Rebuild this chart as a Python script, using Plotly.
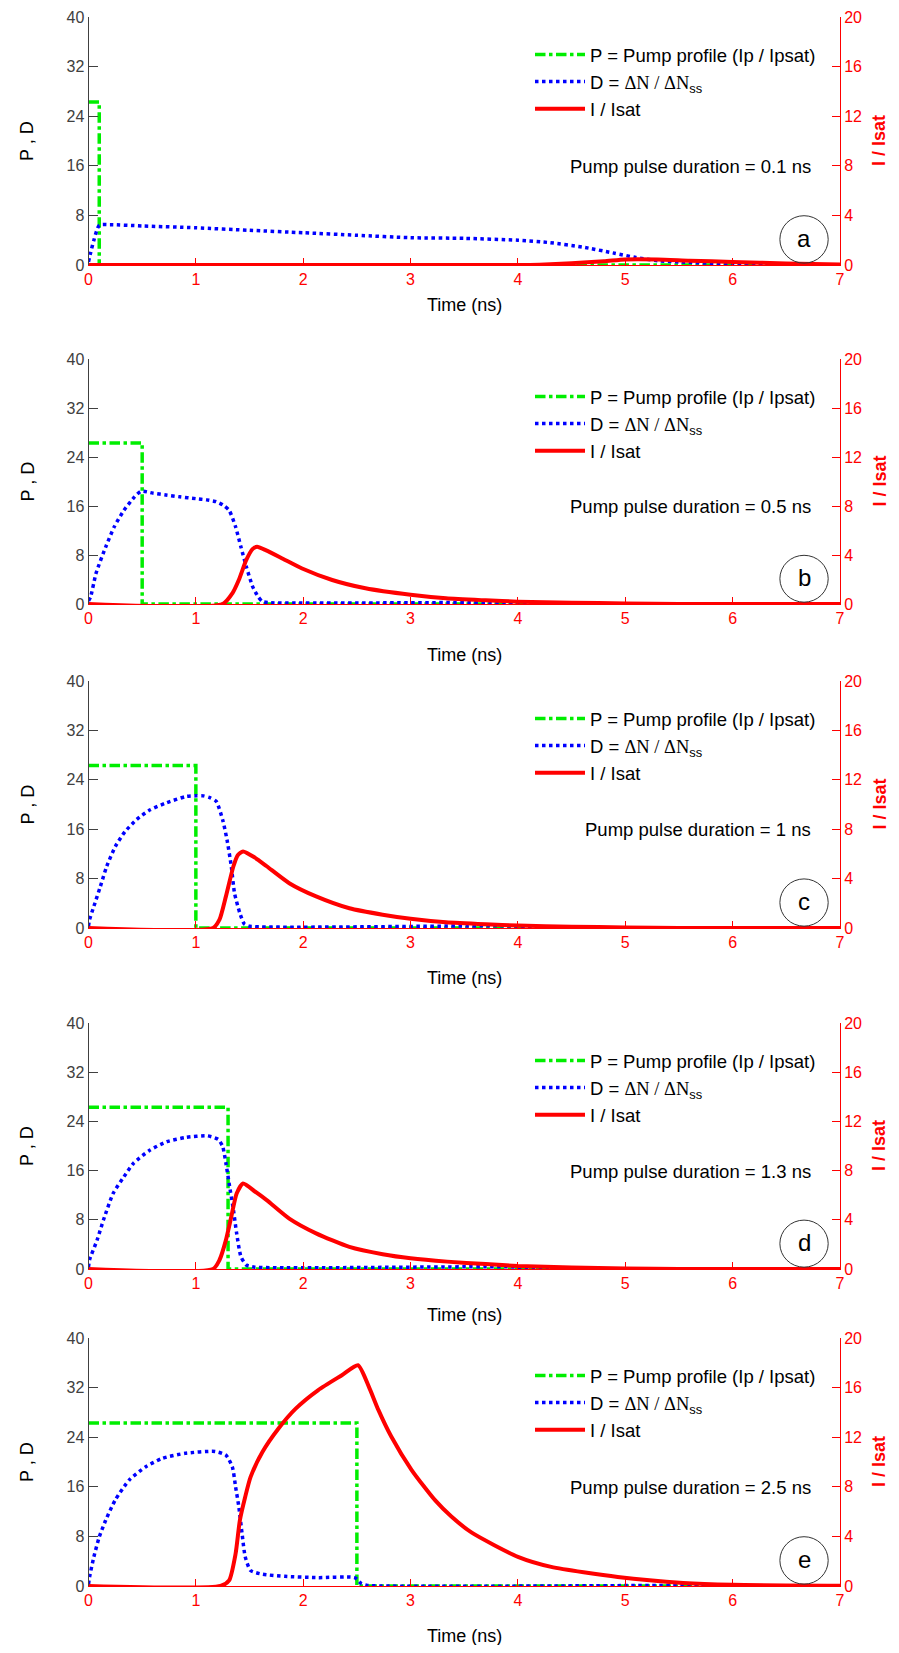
import plotly.graph_objects as go

# ---------------- data ----------------
durations = [0.1, 0.5, 1.0, 1.3, 2.5]           # pump pulse duration (ns)
pump_level = 26.3                                 # P = Ip / Ipsat
panel_letters = ["a", "b", "c", "d", "e"]
duration_labels = ["0.1", "0.5", "1", "1.3", "2.5"]

tD_a = [0, 0.02, 0.05, 0.1, 0.2, 0.5, 1.0, 1.5, 2.0, 2.5, 3.0, 3.5, 4.0, 4.3, 4.6, 4.9, 5.1, 5.3, 5.5, 6.0, 6.3, 7.0]
D_a = [0.5, 2.0, 4.0, 6.4, 6.5, 6.3, 6.0, 5.6, 5.2, 4.8, 4.4, 4.3, 4.0, 3.6, 2.9, 1.9, 1.2, 0.7, 0.5, 0.15, 0.0, 0.0]
tI_a = [0, 4.0, 4.2, 4.5, 4.8, 5.0, 5.3, 5.6, 6.0, 6.5, 7.0]
I_a = [0, 0, 0.03, 0.15, 0.3, 0.45, 0.45, 0.35, 0.25, 0.12, 0.05]

tD_b = [0, 0.02, 0.07, 0.16, 0.24, 0.33, 0.43, 0.49, 0.6, 0.72, 0.85, 1.0, 1.1, 1.19, 1.25, 1.31, 1.37, 1.42, 1.47, 1.53, 1.58, 1.62, 1.7, 4.0, 4.1, 7.0]
D_b = [0.5, 1.2, 5.0, 9.3, 12.6, 15.3, 17.5, 18.4, 18.1, 17.8, 17.5, 17.2, 17.0, 16.7, 16.2, 15.3, 12.6, 9.3, 6.1, 2.8, 1.2, 0.4, 0.2, 0.2, 0, 0]
tI_b = [0, 1.25, 1.34, 1.40, 1.47, 1.53, 1.57, 1.65, 1.81, 1.99, 2.27, 2.58, 3.0, 3.33, 3.7, 4.0, 4.5, 5.0, 5.5, 7.0]
I_b = [0, 0, 0.87, 1.96, 3.6, 4.5, 4.67, 4.4, 3.7, 2.9, 1.96, 1.28, 0.75, 0.46, 0.3, 0.19, 0.1, 0.05, 0, 0]

tD_c = [0, 0.01, 0.05, 0.11, 0.17, 0.25, 0.34, 0.45, 0.57, 0.73, 0.91, 1.0, 1.07, 1.13, 1.19, 1.25, 1.29, 1.33, 1.36, 1.41, 1.45, 1.5, 4.0, 4.1, 7.0]
D_c = [0.3, 1.35, 3.5, 6.7, 10.0, 13.2, 15.6, 17.6, 19.1, 20.3, 21.3, 21.4, 21.4, 21.1, 20.5, 17.5, 14.3, 10.0, 5.65, 2.4, 0.7, 0.3, 0.3, 0, 0]
tI_c = [0, 1.16, 1.22, 1.28, 1.35, 1.39, 1.44, 1.55, 1.66, 1.87, 2.12, 2.43, 2.74, 3.0, 3.33, 3.7, 4.0, 4.5, 5.0, 5.5, 7.0]
I_c = [0, 0, 0.67, 2.56, 5.0, 5.9, 6.2, 5.7, 5.0, 3.63, 2.56, 1.6, 1.08, 0.75, 0.46, 0.3, 0.2, 0.1, 0.05, 0, 0]

tD_d = [0, 0.01, 0.08, 0.14, 0.23, 0.33, 0.42, 0.57, 0.73, 0.91, 1.11, 1.21, 1.25, 1.28, 1.31, 1.35, 1.38, 1.42, 1.47, 1.55, 4.0, 4.1, 7.0]
D_d = [0.3, 1.5, 4.7, 8.0, 12.3, 15.0, 17.2, 19.3, 20.7, 21.4, 21.65, 21.05, 19.9, 17.2, 13.9, 9.6, 5.8, 2.0, 0.65, 0.3, 0.3, 0, 0]
tI_d = [0, 1.16, 1.22, 1.28, 1.33, 1.38, 1.44, 1.55, 1.66, 1.87, 2.12, 2.43, 2.74, 3.0, 3.34, 3.7, 4.0, 4.5, 5.0, 5.5, 7.0]
I_d = [0, 0, 0.73, 2.35, 4.25, 6.14, 6.95, 6.3, 5.6, 4.1, 2.9, 1.8, 1.2, 0.87, 0.6, 0.4, 0.25, 0.12, 0.05, 0, 0]

tD_e = [0, 0.01, 0.05, 0.1, 0.16, 0.25, 0.38, 0.53, 0.69, 0.9, 1.18, 1.28, 1.34, 1.37, 1.4, 1.43, 1.46, 1.51, 1.62, 1.83, 2.14, 2.48, 2.54, 2.6, 5.8, 5.9, 7.0]
D_e = [0.3, 1.46, 4.7, 7.9, 10.6, 13.9, 17.1, 19.2, 20.6, 21.4, 21.7, 21.1, 19.2, 16.0, 12.8, 8.5, 4.7, 2.5, 1.9, 1.56, 1.35, 1.35, 0.4, 0.1, 0.1, 0, 0]
tI_e = [0, 1.23, 1.31, 1.37, 1.41, 1.46, 1.51, 1.62, 1.77, 1.93, 2.14, 2.36, 2.51, 2.61, 2.70, 2.82, 3.01, 3.23, 3.38, 3.57, 4.0, 4.31, 4.93, 5.54, 6.0, 7.0]
I_e = [0, 0, 0.46, 2.6, 5.3, 7.2, 8.8, 10.8, 12.7, 14.3, 15.8, 17.0, 17.8, 16.1, 14.2, 12.05, 9.35, 6.9, 5.6, 4.3, 2.35, 1.54, 0.73, 0.25, 0.1, 0.03]

left_ticks = [0, 8, 16, 24, 32, 40]
right_ticks = [0, 4, 8, 12, 16, 20]
x_ticks = [0, 1, 2, 3, 4, 5, 6, 7]

D_t = [tD_a, tD_b, tD_c, tD_d, tD_e]
D_v = [D_a, D_b, D_c, D_d, D_e]
I_t = [tI_a, tI_b, tI_c, tI_d, tI_e]
I_v = [I_a, I_b, I_c, I_d, I_e]

# ---------------- layout geometry (page pixels) ----------------
# The page body keeps the browser's default 8px margin, so the figure is
# sized to fit inside the 899x1653 window and positions are page pixels - 8.
OFF = 8
WF, HF = 889, 1637
X0_PX, X1_PX = 88.5, 840
panel_px = [(17, 265), (359, 604), (681, 928), (1023, 1269), (1338, 1586)]
time_label_px = [305, 655, 978, 1315, 1636]

def py(px):
    return 1 - (px - OFF) / HF

def pxx(px):
    return (px - OFF) / WF

FONT = "Arial, Liberation Sans, sans-serif"
GREEN = "#00ee00"
BLUE = "#0000ff"
RED = "#ff0000"
GRAY = "#404040"

fig = go.Figure()
layout = dict(
    template="none",
    width=WF, height=HF, margin=dict(l=0, r=0, t=0, b=0, pad=0, autoexpand=False),
    paper_bgcolor="white", plot_bgcolor="white",
    font=dict(family=FONT, size=16, color="black"),
    showlegend=True,
)
annotations = []
shapes = []

for i in range(5):
    n = i + 1
    xa = "x" if n == 1 else f"x{n}"
    yl_idx = 2 * i + 1
    yr_idx = 2 * i + 2
    yl = "y" if yl_idx == 1 else f"y{yl_idx}"
    yr = f"y{yr_idx}"
    leg = "legend" if n == 1 else f"legend{n}"
    top, bot = panel_px[i]
    dur = durations[i]

    # P (pump profile)
    fig.add_trace(go.Scatter(
        x=[0, dur, dur, 7], y=[pump_level, pump_level, 0, 0],
        mode="lines", line=dict(color=GREEN, width=3.5, dash="dashdot"),
        name="P = Pump profile (Ip / Ipsat)", xaxis=xa, yaxis=yl, legend=leg))
    # D
    fig.add_trace(go.Scatter(
        x=D_t[i], y=D_v[i], mode="lines",
        line=dict(color=BLUE, width=3.5, dash="dot", shape="spline", smoothing=0.6),
        name="D = <span style='font-family:Liberation Serif, Times New Roman, serif'>ΔN / ΔN</span><sub>ss</sub>",
        xaxis=xa, yaxis=yl, legend=leg))
    # I / Isat (right axis)
    fig.add_trace(go.Scatter(
        x=I_t[i], y=I_v[i], mode="lines",
        line=dict(color=RED, width=4, shape="spline", smoothing=0.6),
        name="I / Isat", xaxis=xa, yaxis=yr, legend=leg))

    xkey = "xaxis" if n == 1 else f"xaxis{n}"
    ylkey = "yaxis" if yl_idx == 1 else f"yaxis{yl_idx}"
    yrkey = f"yaxis{yr_idx}"

    layout[xkey] = dict(
        domain=[pxx(X0_PX), pxx(X1_PX)], anchor=yl, range=[0, 7],
        tickvals=x_ticks, ticks="inside", ticklen=7, tickcolor=RED,
        tickfont=dict(color=RED, size=16, family=FONT),
        showline=True, linecolor=RED, linewidth=1, showgrid=False,
        zeroline=False, fixedrange=True, automargin=False)
    layout[ylkey] = dict(
        domain=[py(bot), py(top)], anchor=xa, range=[0, 40],
        tickvals=left_ticks, ticks="inside", ticklen=9, tickcolor=GRAY,
        tickfont=dict(color=GRAY, size=16, family=FONT),
        showline=True, linecolor=GRAY, linewidth=1, showgrid=False,
        zeroline=False, fixedrange=True, automargin=False)
    layout[yrkey] = dict(
        overlaying=yl, anchor=xa, side="right", range=[0, 20],
        tickvals=right_ticks, ticks="inside", ticklen=8, tickcolor=RED,
        tickfont=dict(color=RED, size=16, family=FONT),
        showline=True, linecolor=RED, linewidth=1, showgrid=False,
        zeroline=False, fixedrange=True, automargin=False)

    layout[leg] = dict(
        x=pxx(530), y=py(top + 19), xanchor="left", yanchor="top",
        bgcolor="rgba(0,0,0,0)", borderwidth=0, itemwidth=50,
        font=dict(size=18.5, family=FONT, color="black"),
        tracegroupgap=0, itemclick=False, itemdoubleclick=False)

    # axis titles
    annotations.append(dict(
        text="Time (ns)", xref="paper", yref="paper",
        x=pxx((X0_PX + X1_PX) / 2), y=py(time_label_px[i]),
        xanchor="center", yanchor="middle", showarrow=False,
        font=dict(size=18, color="black", family=FONT)))
    annotations.append(dict(
        text="P , D", xref="paper", yref="paper",
        x=pxx(27), y=py((top + bot) / 2), textangle=-90,
        xanchor="center", yanchor="middle", showarrow=False,
        font=dict(size=18, color="black", family=FONT)))
    annotations.append(dict(
        text="<b>I / Isat</b>", xref="paper", yref="paper",
        x=pxx(879), y=py((top + bot) / 2), textangle=-90,
        xanchor="center", yanchor="middle", showarrow=False,
        font=dict(size=18, color=RED, family=FONT)))
    # duration text
    annotations.append(dict(
        text=f"Pump pulse duration = {duration_labels[i]} ns",
        xref=xa, yref=yl, x=6.75, y=15.9, xanchor="right", yanchor="middle",
        showarrow=False, font=dict(size=18.5, color="black", family=FONT)))
    # panel letter in circle
    annotations.append(dict(
        text=panel_letters[i], xref=xa, yref=yl, x=6.665, y=4.3,
        xanchor="center", yanchor="middle", showarrow=False,
        font=dict(size=24, color="black", family=FONT)))
    shapes.append(dict(
        type="circle", xref=xa, yref=yl, x0=6.44, x1=6.89, y0=0.3, y1=7.95,
        line=dict(color="#333333", width=1)))

layout["annotations"] = annotations
layout["shapes"] = shapes
fig.update_layout(**layout)

fig.write_html("out.html", config={"displayModeBar": False})
